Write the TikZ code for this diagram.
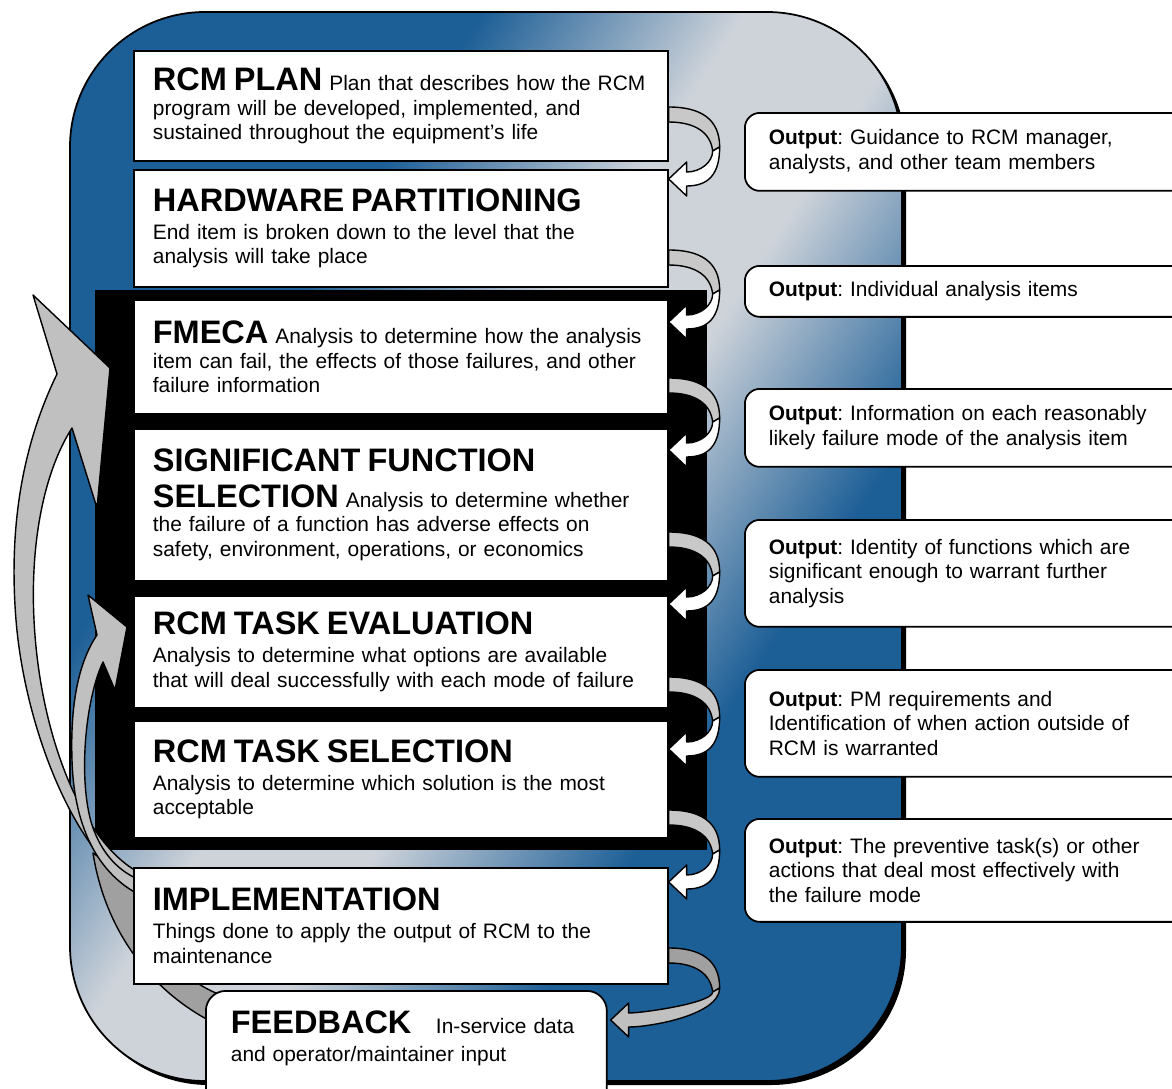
\documentclass[tikz,border=0pt]{standalone}
\usepackage{fontspec}
\setmainfont{Liberation Sans}
\frenchspacing

\definecolor{rcmblue}{RGB}{28,94,150}
\definecolor{rcmgray}{RGB}{206,211,218}
\definecolor{bandgray}{RGB}{200,200,200}
\definecolor{loopgray}{RGB}{192,192,192}
\definecolor{loopdark}{RGB}{160,160,160}

\pgfdeclareverticalshading{rcmsky}{100bp}{color(0bp)=(rcmblue); color(34bp)=(rcmblue);
  color(46bp)=(rcmgray); color(54bp)=(rcmgray); color(66bp)=(rcmblue); color(100bp)=(rcmblue)}

\newcommand{\phasetitle}[1]{{\fontsize{18.5}{21}\selectfont\bfseries #1}}

\tikzset{
  phase/.style={draw=black, fill=white, line width=1pt, anchor=north west,
    text width=9.92cm, inner xsep=0.38cm, align=left,
    font=\fontsize{11.9}{14}\selectfont},
  outnote/.style={draw=black, fill=white, line width=1pt, rounded corners=0.3cm,
    anchor=north west, text width=8.6cm, inner xsep=0.48cm, align=left,
    font=\fontsize{11.9}{14}\selectfont},
  ribbon/.style={draw=black, line width=0.8pt, line join=round},
}

% turning band arrow on the right of a phase box
\newcommand{\bandarrow}[5]{%
  \begin{scope}[shift={(#1.east |- 0,#2)}]
    \filldraw[ribbon, fill=#3] (0,0) .. controls (32,0) and (51,12) .. (51,40)
      -- (44,44) .. controls (42,26) and (27,15) .. (0,15) -- cycle;
    \filldraw[ribbon, fill=#4] (51,40) .. controls (51,67) and ({#5+40},79) .. ({#5+18},79)
      -- ({#5+18},89) -- (#5,72) -- ({#5+18},55) -- ({#5+18},65)
      .. controls ({#5+32},65) and (44,55) .. (44,44) -- cycle;
  \end{scope}}

\begin{document}
\begin{tikzpicture}[x=0.02cm, y=-0.02cm]
  \useasboundingbox (0,0) rectangle (1172,1088);

  % background
  \fill[black, rounded corners=2.7cm] (74,16) rectangle (906,1085);
  \shade[shading=rcmsky, shading angle=57, rounded corners=2.7cm] (70,12) rectangle (902,1081);
  \draw[line width=1pt, rounded corners=2.7cm] (70,12) rectangle (902,1081);

  \fill[black] (95,290) rectangle (707,850);

  % feedback loops
  \filldraw[ribbon, fill=loopdark] (93,853) .. controls (105,930) and (150,990) .. (212,1022)
    -- (240,1000) .. controls (180,990) and (140,930) .. (132,880) -- cycle;
  \filldraw[ribbon, fill=loopgray] (57,374) -- (33,295) -- (110,368) -- (97,508) -- (72,428)
    .. controls (45,470) and (30,540) .. (34,620) .. controls (40,740) and (85,845) .. (140,873)
    -- (140,893) .. controls (70,850) and (24,720) .. (16,620)
    .. controls (8,520) and (25,440) .. (57,374) -- cycle;
  \filldraw[ribbon, fill=loopgray] (97,635) -- (88,595) -- (127,627) -- (115,690) -- (103,662)
    .. controls (85,700) and (78,780) .. (92,825) .. controls (102,855) and (120,872) .. (140,880)
    -- (140,895) .. controls (100,875) and (74,830) .. (72,760)
    .. controls (70,700) and (80,660) .. (97,635) -- cycle;

  % phases
  \node[phase, minimum height=2.2cm] (plan) at (133,50)
    {\phasetitle{RCM PLAN} Plan that describes how the RCM\\ program will be developed, implemented, and\\ sustained throughout the equipment’s life};
  \node[phase, minimum height=2.34cm] (hw) at (133,169)
    {\phasetitle{HARDWARE PARTITIONING}\\[2pt] End item is broken down to the level that the\\ analysis will take place};
  \node[phase, minimum height=2.28cm] (fmeca) at (133,299)
    {\phasetitle{FMECA} Analysis to determine how the analysis\\ item can fail, the effects of those failures, and other\\ failure information};
  \node[phase, minimum height=3.04cm] (sfs) at (133,428)
    {\phasetitle{SIGNIFICANT FUNCTION}\\[6pt] \phasetitle{SELECTION} Analysis to determine whether\\ the failure of a function has adverse effects on\\ safety, environment, operations, or economics};
  \node[phase, minimum height=2.24cm] (rte) at (133,595)
    {\phasetitle{RCM TASK EVALUATION}\\[2pt] Analysis to determine what options are available\\ that will deal successfully with each mode of failure};
  \node[phase, minimum height=2.34cm] (rts) at (133,720)
    {\phasetitle{RCM TASK SELECTION}\\[2pt] Analysis to determine which solution is the most\\ acceptable};
  \node[phase, minimum height=2.32cm] (impl) at (133,867)
    {\phasetitle{IMPLEMENTATION}\\[2pt] Things done to apply the output of RCM to the\\ maintenance};
  \node[outnote, text width=7.02cm, inner xsep=0.5cm, inner ysep=0.4cm, rounded corners=0.4cm] (fb) at (205,990)
    {\phasetitle{FEEDBACK}\hspace{10pt} In-service data\\[2pt] and operator/maintainer input\\ \mbox{}\\ \mbox{}};

  % outputs
  \node[outnote, minimum height=1.56cm] (out1) at (744,112)
    {\textbf{Output}: Guidance to RCM manager,\\ analysts, and other team members};
  \node[outnote, minimum height=1.02cm] (out2) at (744,265)
    {\textbf{Output}: Individual analysis items};
  \node[outnote, minimum height=1.56cm] (out3) at (744,388)
    {\textbf{Output}: Information on each reasonably\\ likely failure mode of the analysis item};
  \node[outnote, minimum height=2.14cm] (out4) at (744,519)
    {\textbf{Output}: Identity of functions which are\\ significant enough to warrant further\\ analysis};
  \node[outnote, minimum height=2.14cm] (out5) at (744,669)
    {\textbf{Output}: PM requirements and\\ Identification of when action outside of\\ RCM is warranted};
  \node[outnote, minimum height=2.06cm] (out6) at (744,818)
    {\textbf{Output}: The preventive task(s) or other\\ actions that deal most effectively with\\ the failure mode};

  % turning arrows
  \bandarrow{plan}{107}{bandgray}{white}{0}
  \bandarrow{hw}{250}{bandgray}{white}{0}
  \bandarrow{fmeca}{378}{bandgray}{white}{0}
  \bandarrow{sfs}{532}{bandgray}{white}{0}
  \bandarrow{rte}{677}{bandgray}{white}{0}
  \bandarrow{rts}{810}{bandgray}{white}{0}
  \bandarrow{impl}{948}{loopdark}{loopgray}{-58}
\end{tikzpicture}
\end{document}
